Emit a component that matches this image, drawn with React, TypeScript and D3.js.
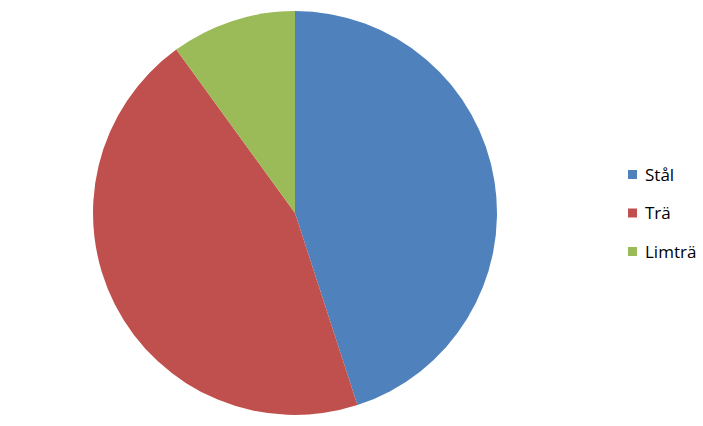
import { useMemo } from "react";
import * as d3 from "d3";

const W = 703, H = 426;
const CX = 295, CY = 213, R = 202;

const labels = ["Stål", "Trä", "Limträ"];
const values = [45, 45, 10];
const colors = ["#4F81BD", "#C0504D", "#9BBB59"];

export default function App() {
  const arcs = useMemo(
    () => d3.pie<number>().sort(null).value((d) => d)(values),
    []
  );
  const arc = d3.arc<d3.PieArcDatum<number>>().innerRadius(0).outerRadius(R);
  const legendY = d3.scalePoint<string>().domain(labels).range([175, 252]);

  return (
    <div style={{ position: "absolute", left: 0, top: 0, width: W, height: H, background: "#fff" }}>
      <svg width={W} height={H} style={{ display: "block" }}>
        <g transform={`translate(${CX},${CY})`}>
          {arcs.map((a, i) => (
            <path key={i} d={arc(a) || ""} fill={colors[i]} />
          ))}
        </g>
        {/* Legend */}
        {labels.map((l, i) => (
          <g key={l} transform={`translate(628,${legendY(l)})`}>
            <rect x={0} y={-5} width={9} height={9} fill={colors[i]} />
            <text x={17} y={0} dy="0.35em" fontSize="17"
              fontFamily="'Open Sans', sans-serif" fill="#000">
              {l}
            </text>
          </g>
        ))}
      </svg>
    </div>
  );
}
